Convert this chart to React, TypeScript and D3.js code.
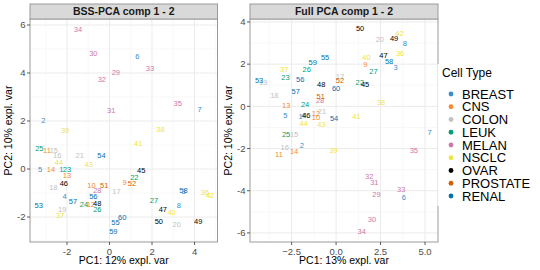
import React from 'react';
import * as d3 from 'd3';

// cell types and how many cell lines (1..60, in order) belong to each
const cellTypes = ['BREAST', 'CNS', 'COLON', 'LEUK', 'MELAN', 'NSCLC', 'OVAR', 'PROSTATE', 'RENAL'];
const typeCounts = [8, 6, 7, 6, 8, 9, 6, 2, 8];
const typeColors = ['#388ECC', '#F68B33', '#C2C2C2', '#009E73', '#CC79A7', '#F0E442', '#000000', '#D55E00', '#0072B2'];

// BSS-PCA scores, sample 1..60
const bssPC1 = [
  -2.27, -3.11, 3.48, -2.11, -3.27, 1.31, 4.24, 3.26, 0.71, -0.85,
  -2.94, -0.88, -2.0, -2.75, -2.62, -2.46, 0.33, -2.64, -2.23, 3.16,
  -1.4, 1.17, -2.0, -1.2, -3.3, -0.57, 2.09, -0.57, 0.3, -0.76,
  0.08, -0.36, 1.9, -1.48, 3.21, 4.49, -2.32, 2.4, -2.09, 2.92,
  1.35, 4.73, -0.98, -2.38, 1.49, -2.15, 2.51, -0.58, 4.17, 2.32,
  -0.25, 1.06, -3.33, -0.38, 0.28, -0.76, -1.72, 3.48, 0.18, 0.6,
];
const bssPC2 = [
  -0.01, 2.04, -0.95, -1.15, 0.0, 4.71, 2.5, -1.53, -0.56, -0.68,
  0.76, -1.46, -0.25, 0.0, 0.79, 0.57, -0.94, -0.75, -1.7, -2.29,
  0.55, -0.36, -0.01, -1.46, 0.86, -1.7, -1.32, -0.89, 4.03, 4.82,
  2.45, 3.75, 4.18, 5.82, 2.72, -0.97, -1.93, 1.67, 1.63, -1.82,
  1.07, -1.08, 0.2, 0.28, -0.04, -0.61, -1.67, -1.43, -2.17, -2.17,
  -0.68, -0.6, -1.51, 0.55, -2.22, -1.15, -1.33, -0.9, -2.61, -2.03,
];

// Full PCA scores, sample 1..60
const fullPC1 = [
  -1.99, -1.93, 3.34, -1.85, -2.85, 3.81, 5.25, 3.86, 1.65, -1.13,
  -3.21, -1.13, -2.8, -2.36, -2.36, -2.89, 0.22, -3.47, -4.09, 2.46,
  -0.79, 1.33, -2.85, -1.74, -2.81, -1.65, 2.1, -0.9, 2.27, 2.02,
  2.15, 1.86, 3.66, 1.44, 4.37, 3.6, -2.92, 2.53, -0.15, 1.71,
  1.14, 3.56, -0.83, -1.82, 1.63, -1.67, 2.66, -0.84, 3.26, 1.35,
  -0.86, 0.22, -4.33, -0.11, -0.62, -2.02, -2.27, 2.98, -1.31, 0.0,
];
const fullPC2 = [
  -0.46, -1.83, 1.84, -0.44, -0.41, -4.33, -1.25, 2.98, 1.98, -0.51,
  -2.3, -0.35, 0.05, -2.14, -1.32, -1.94, 1.41, 0.54, 1.14, 3.16,
  -0.25, 1.13, 1.35, 0.1, -1.32, 1.76, 1.68, 0.29, -4.18, -5.35,
  -3.6, -3.3, -3.95, -5.95, -2.1, 2.49, 1.73, 0.21, -2.1, 2.33,
  -0.46, 3.44, -0.86, -0.79, 1.05, -0.41, 2.4, 1.06, 3.24, 3.71,
  0.49, 1.24, 1.24, -0.59, 2.33, 1.29, 0.71, 2.11, 2.1, 0.87,
];

const W = 540;
const H = 270;
const FONT = 'Liberation Sans, Arial, Helvetica, sans-serif';

const sampleType: number[] = typeCounts.flatMap((n, i) => d3.range(n).map(() => i));

interface PanelProps {
  title: string;
  xs: number[];
  ys: number[];
  xDomain: [number, number];
  yDomain: [number, number];
  left: number;
  right: number;
  xTicks: number[];
  xMinor: number[];
  yTicks: number[];
  yMinor: number[];
  xFmt: (v: number) => string;
  xLabel: string;
  yLabel: string;
  yLabelX: number;
}

const TOP = 19;
const BOTTOM = 242;

function Panel(p: PanelProps) {
  const x = d3.scaleLinear().domain(p.xDomain).range([p.left, p.right]);
  const y = d3.scaleLinear().domain(p.yDomain).range([BOTTOM, TOP]);
  const midX = (p.left + p.right) / 2;
  return (
    <g>
      <rect x={p.left} y={TOP} width={p.right - p.left} height={BOTTOM - TOP} fill="#fff" />
      {p.xMinor.map((v) => (
        <line key={`xm${v}`} x1={x(v)} x2={x(v)} y1={TOP} y2={BOTTOM} stroke="#F4F4F4" strokeWidth={0.6} />
      ))}
      {p.yMinor.map((v) => (
        <line key={`ym${v}`} x1={p.left} x2={p.right} y1={y(v)} y2={y(v)} stroke="#F4F4F4" strokeWidth={0.6} />
      ))}
      {p.xTicks.map((v) => (
        <line key={`xg${v}`} x1={x(v)} x2={x(v)} y1={TOP} y2={BOTTOM} stroke="#EBEBEB" strokeWidth={1} />
      ))}
      {p.yTicks.map((v) => (
        <line key={`yg${v}`} x1={p.left} x2={p.right} y1={y(v)} y2={y(v)} stroke="#EBEBEB" strokeWidth={1} />
      ))}
      {p.xs.map((v, i) => (
        <text
          key={`pt${i}`}
          x={x(v)}
          y={y(p.ys[i])}
          dy="0.35em"
          textAnchor="middle"
          fontSize={7.5}
          fill={typeColors[sampleType[i]]}
        >
          {i + 1}
        </text>
      ))}
      <rect x={p.left} y={TOP} width={p.right - p.left} height={BOTTOM - TOP} fill="none" stroke="#9A9A9A" strokeWidth={1} />
      {/* strip */}
      <rect x={p.left} y={4} width={p.right - p.left} height={TOP - 4} fill="#D9D9D9" stroke="#9A9A9A" strokeWidth={1} />
      <text x={midX} y={11.5} dy="0.35em" textAnchor="middle" fontSize={10.5} fontWeight="bold" fill="#1A1A1A">
        {p.title}
      </text>
      {/* axes */}
      {p.xTicks.map((v) => (
        <g key={`xt${v}`}>
          <line x1={x(v)} x2={x(v)} y1={BOTTOM} y2={BOTTOM + 3} stroke="#333" strokeWidth={0.8} />
          <text x={x(v)} y={BOTTOM + 6} dy="0.71em" textAnchor="middle" fontSize={9.5} fill="#4D4D4D">
            {p.xFmt(v)}
          </text>
        </g>
      ))}
      {p.yTicks.map((v) => (
        <g key={`yt${v}`}>
          <line x1={p.left - 3} x2={p.left} y1={y(v)} y2={y(v)} stroke="#333" strokeWidth={0.8} />
          <text x={p.left - 4.5} y={y(v)} dy="0.35em" textAnchor="end" fontSize={9.5} fill="#4D4D4D">
            {v}
          </text>
        </g>
      ))}
      <text x={midX} y={260.5} dy="0.35em" textAnchor="middle" fontSize={10.5} fill="#000">
        {p.xLabel}
      </text>
      <text
        transform={`translate(${p.yLabelX},${(TOP + BOTTOM) / 2}) rotate(-90)`}
        dy="0.35em"
        textAnchor="middle"
        fontSize={10.5}
        fill="#000"
      >
        {p.yLabel}
      </text>
    </g>
  );
}

export default function App() {
  const fmt1 = (v: number) => d3.format('.1f')(v).replace('-', '-');
  return (
    <svg
      width={W}
      height={H}
      viewBox={`0 0 ${W} ${H}`}
      style={{ position: 'absolute', left: 0, top: 0, fontFamily: FONT, background: '#fff' }}
    >
      <rect width={W} height={H} fill="#fff" />
      <Panel
        title="BSS-PCA comp 1 - 2"
        xs={bssPC1}
        ys={bssPC2}
        xDomain={[-3.74, 5.08]}
        yDomain={[-3.04, 6.25]}
        left={30}
        right={217.5}
        xTicks={[-2, 0, 2, 4]}
        xMinor={[-3, -1, 1, 3, 5]}
        yTicks={[-2, 0, 2, 4, 6]}
        yMinor={[-3, -1, 1, 3, 5]}
        xFmt={(v) => `${v}`}
        xLabel="PC1: 12% expl. var"
        yLabel="PC2: 10% expl. var"
        yLabelX={8}
      />
      <Panel
        title="Full PCA comp 1 - 2"
        xs={fullPC1}
        ys={fullPC2}
        xDomain={[-4.84, 5.73]}
        yDomain={[-6.43, 4.14]}
        left={250}
        right={438}
        xTicks={[-2.5, 0, 2.5, 5]}
        xMinor={[-3.75, -1.25, 1.25, 3.75]}
        yTicks={[-6, -4, -2, 0, 2, 4]}
        yMinor={[-5, -3, -1, 1, 3]}
        xFmt={fmt1}
        xLabel="PC1: 13% expl. var"
        yLabel="PC2: 10% expl. var"
        yLabelX={228}
      />
      {/* legend */}
      <rect x={437.5} y={64} width={W - 437.5} height={142} fill="#fff" />
      <text x={442} y={73} dy="0.35em" fontSize={12} fill="#000">
        Cell Type
      </text>
      {cellTypes.map((t, i) => (
        <g key={t}>
          <circle cx={451} cy={94 + i * 12.75} r={2.4} fill={typeColors[i]} />
          <text x={462} y={94 + i * 12.75} dy="0.35em" fontSize={13} fill="#000">
            {t}
          </text>
        </g>
      ))}
    </svg>
  );
}
